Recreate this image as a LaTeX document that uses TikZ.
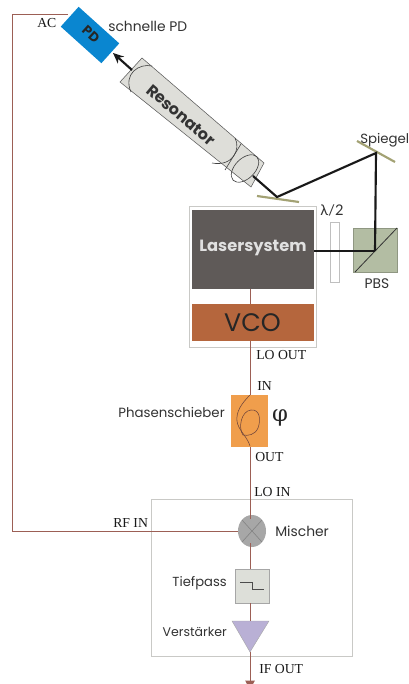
\documentclass[tikz,border=0pt]{standalone}
\usepackage{fontspec}
\setmainfont{Liberation Serif}
\newfontfamily\gothic{Poppins}
\newfontfamily\symb{DejaVu Serif}
\newfontfamily\lato{Lato}
\usetikzlibrary{arrows.meta,shapes.geometric}
\definecolor{wire}{HTML}{9C5F55}
\definecolor{framec}{HTML}{C9C9C6}
\definecolor{pdblue}{HTML}{0A86D0}
\definecolor{resfill}{HTML}{DEDED9}
\definecolor{lasergray}{HTML}{5F5A58}
\definecolor{vcoc}{HTML}{B5663D}
\definecolor{phasec}{HTML}{F09E4C}
\definecolor{pbsc}{HTML}{B3BDA3}
\definecolor{mirrorc}{HTML}{A3A274}
\definecolor{mixc}{HTML}{A7A7A7}
\definecolor{tpc}{HTML}{DDDFD9}
\definecolor{ampc}{HTML}{B9B0D5}
\tikzset{
  wireline/.style={draw=wire,line width=.75pt},
  beam/.style={draw=black!90,line width=1.6pt},
  frameline/.style={draw=framec,line width=.7pt},
  mirrorline/.style={draw=mirrorc,line width=1.6pt},
  thinline/.style={draw=black!75,line width=.45pt},
  block/.style={inner sep=0pt,outer sep=0pt,anchor=north west},
  serlabel/.style={font=\fontsize{10.3}{12}\selectfont,text=black!90,inner sep=0pt},
  gotlabel/.style={font=\gothic\fontsize{10.4}{12}\selectfont,text=black!80,inner sep=0pt},
}
\begin{document}
\begin{tikzpicture}[x=.75pt,y=-.75pt]
\useasboundingbox[fill=white] (0,0) rectangle (409,684);
% frames
\draw[frameline] (189,206) rectangle (316,347);
\draw[frameline] (151,499) rectangle (352,656);
% named blocks
\node[block,fill=lasergray,minimum width=91.5pt,minimum height=59.25pt] (laser) at (192,210) {};
\node[block,fill=vcoc,minimum width=91.5pt,minimum height=27.75pt] (vco) at (192,304) {};
\node[block,fill=phasec,minimum width=27.75pt,minimum height=39pt] (phase) at (231,395) {};
\node[block,draw=black!35,line width=.5pt,fill=tpc,minimum width=25.5pt,minimum height=25.5pt] (tp) at (235,569) {};
\node[block,draw=pbsc!80!black,line width=.3pt,fill=pbsc,minimum width=33pt,minimum height=33pt] (pbs) at (353,228) {};
\node[block,draw=black!25,line width=.6pt,fill=white,minimum width=6.75pt,minimum height=45pt] (plate) at (330,222) {};
\node[ellipse,fill=mixc,inner sep=0pt,minimum width=21pt,minimum height=24pt] (mix) at (252,531) {};
\coordinate (ampa) at (232,621);
\coordinate (ampb) at (269,621);
\coordinate (ampc) at (250,652);
\coordinate (ampin) at (250,621);
\fill[ampc] (ampa) -- (ampb) -- (ampc) -- cycle;
\draw[draw=black!35,line width=.3pt] (ampa) -- (ampb) -- (ampc) -- cycle;
\node[rotate=-42,fill=pdblue,inner sep=0pt,minimum width=41pt,minimum height=20pt] (pd) at (90,35) {};
% wires
\coordinate (c1) at (12,531);
\coordinate (c2) at (12,15);
\coordinate (pdleft) at (68,15);
\coordinate (outend) at (250,690);
\draw[wireline] (mix.west) -- (c1) -- (c2) -- (pdleft);
\draw[wireline] (250,289) -- (250,304);
\draw[wireline] (250,341) -- (250,395);
\draw[wireline] (250,447) -- (250,519);
\draw[wireline] (250,543) -- (250,569);
\draw[wireline] (250,603) -- (ampin);
\draw[wireline,-{Triangle[width=7pt,length=7pt]}] (ampc) -- (outend);
% mixer cross
\draw[line width=.4pt,black!50] (242,520) -- (262,542) (262,520) -- (242,542);
% phase-shifter fibre
\draw[line width=.4pt,wire!70!black] (250,395) .. controls (241,404) and (236,412) .. (237,421) .. controls (238,430) and (247,436) .. (250,446);
\draw[line width=.4pt,wire!70!black] (243,435) .. controls (238,428) and (241,411) .. (251,410) .. controls (260,409) and (261,420) .. (258,428) .. controls (255,435) and (248,436) .. (243,435);
% low-pass symbol
\draw[line width=.5pt,black!70] (240,582) -- (252,582) -- (252,589) -- (264,589);
% resonator
\path[fill=resfill,draw=black!65,line width=.4pt] (142,58) coordinate (r1) -- (264,163) coordinate (r2) -- (251,187) coordinate (r3) -- (120,82) coordinate (r4) -- cycle;
\draw[thinline] (152,66) .. controls (139,63) and (123,74) .. (131,92);
\draw[thinline] (235,138) .. controls (241,149) and (233,167) .. (212,163);
\draw[thinline] (241,144) -- (225,170);
\draw[thinline,rotate around={45:(245,168.5)}] (245,168.5) ellipse [x radius=12.5pt,y radius=7.5pt];
% beam
\coordinate (m1) at (277,197);
\coordinate (m2) at (376,153);
\coordinate (bs) at (375,251);
\coordinate (cavin) at (253,176);
\coordinate (cavout) at (132,70);
\coordinate (pdin) at (113,53);
\draw[mirrorline] (257,196) -- (299,202);
\draw[mirrorline] (357,141) -- (395,162);
\draw[line width=.6pt,black!80] (355,272) -- (397,228);
\draw[beam,line join=miter] (cavin) -- (m1) -- (m2) -- (bs);
\draw[beam] (laser.east |- bs) -- (bs);
\draw[beam,-{Stealth[length=8pt,width=7pt]}] (cavout) -- (pdin);
% texts
\node[rotate=-40,font=\gothic\bfseries\fontsize{12}{14}\selectfont,text=black!80,inner sep=0pt] at (181,115) {Resonator};
\node[rotate=-42,font=\gothic\bfseries\fontsize{10}{12}\selectfont,text=black!85,inner sep=0pt] at (91,34) {PD};
\node[font=\gothic\bfseries\fontsize{12.2}{14}\selectfont,text=black!12,inner sep=0pt] at (253,248) {Lasersystem};
\node[font=\gothic\fontsize{19}{22}\selectfont,text=black!85,inner sep=0pt] at (252.5,323) {VCO};
\node[gotlabel,anchor=west] at (108,26) {schnelle PD};
\node[gotlabel,font=\gothic\fontsize{10}{12}\selectfont,anchor=west] at (360,140) {Spiegel};
\node[font=\lato\fontsize{11}{12}\selectfont,text=black!80,inner sep=0pt] at (332,210) {λ/2};
\node[gotlabel] at (377,284) {PBS};
\node[gotlabel,font=\gothic\fontsize{10}{12}\selectfont,anchor=east] at (225,412) {Phasenschieber};
\node[font=\symb\fontsize{17}{20}\selectfont,text=black!85,inner sep=0pt] at (280,418) {φ};
\node[gotlabel,anchor=west] at (275,531) {Mischer};
\node[gotlabel,font=\gothic\fontsize{9.85}{12}\selectfont,anchor=east] at (227,583) {Tiefpass};
\node[gotlabel,font=\gothic\fontsize{9.4}{12}\selectfont,anchor=east] at (227,632) {Verstärker};
\node[serlabel,anchor=west] at (37,23) {AC};
\node[serlabel,anchor=west] at (256,355) {LO OUT};
\node[serlabel,anchor=west] at (257,386) {IN};
\node[serlabel,anchor=west] at (255,457) {OUT};
\node[serlabel,anchor=west] at (254,492) {LO IN};
\node[serlabel,anchor=west] at (113,523) {RF IN};
\node[serlabel,anchor=west] at (259,669) {IF OUT};
\end{tikzpicture}
\end{document}
